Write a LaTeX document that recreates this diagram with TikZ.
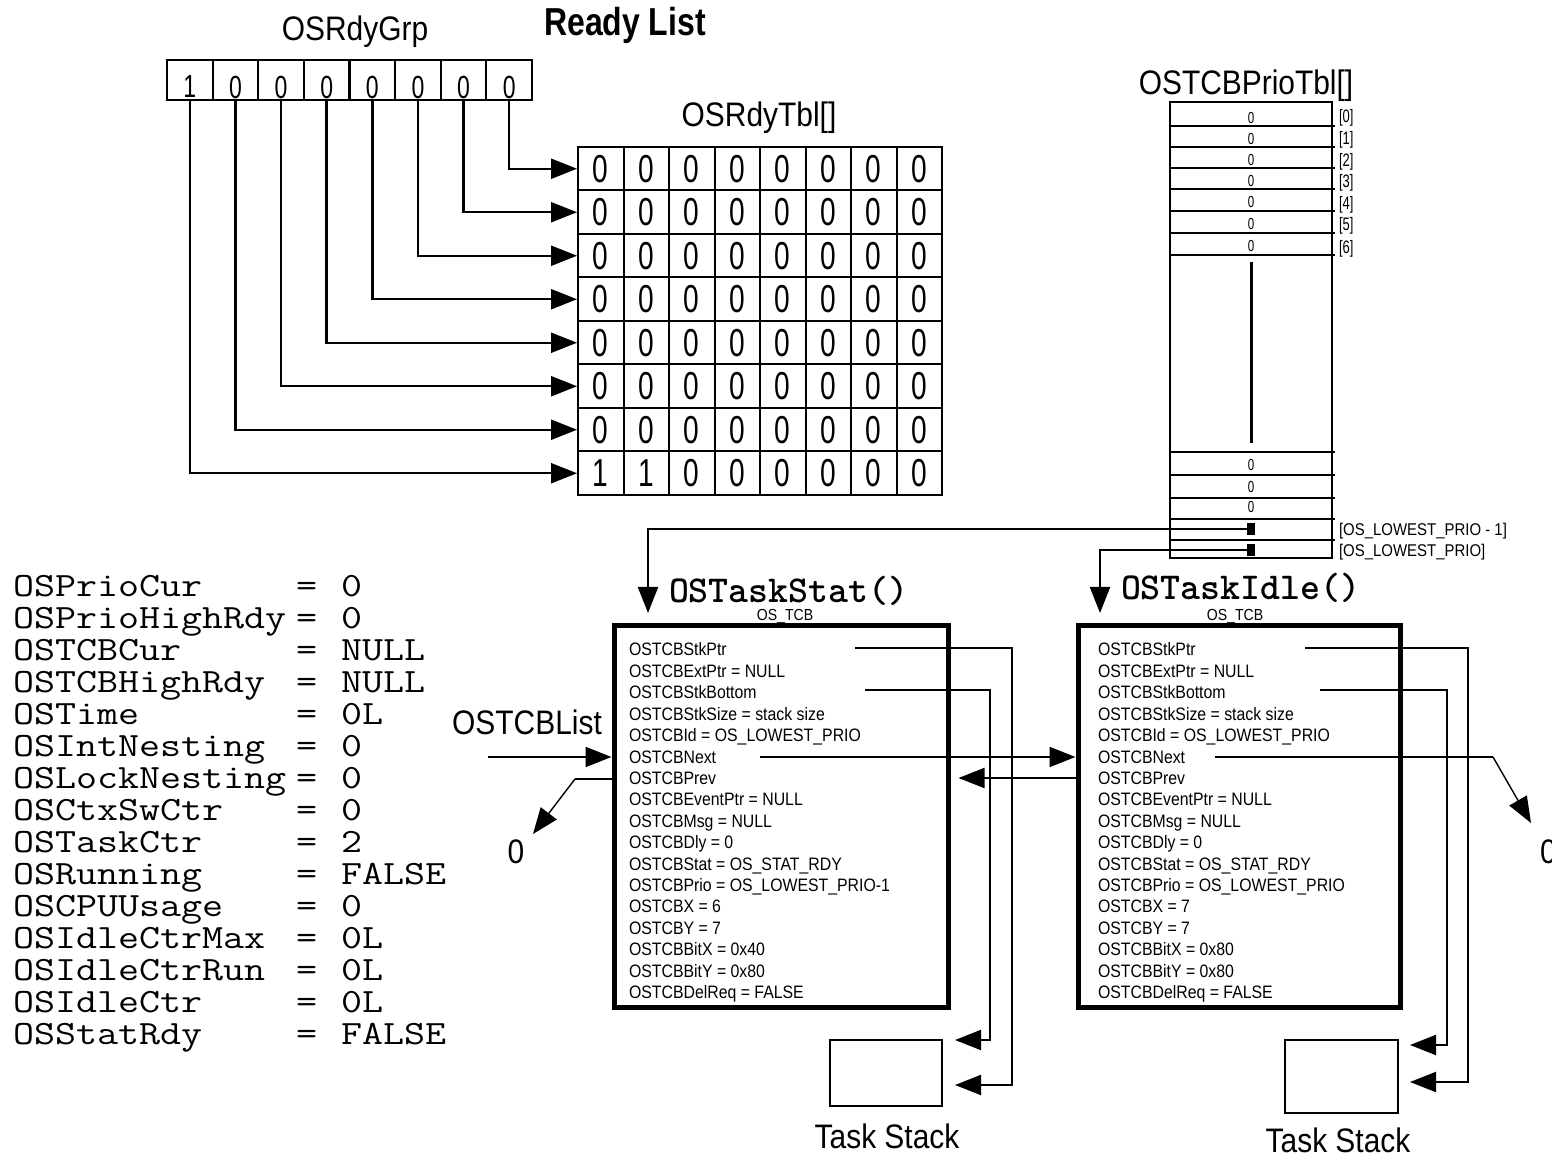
\documentclass[tikz,border=0pt]{standalone}
\usepackage{fontspec}
\setmainfont{Liberation Sans}
\newfontfamily\lblf[FakeStretch=0.88]{Liberation Sans}
\newfontfamily\narrowf[FakeStretch=0.72]{Liberation Sans}
\newfontfamily\rlf[FakeStretch=0.82]{Liberation Sans}
\newfontfamily\varf[FakeStretch=1.2]{Latin Modern Mono}
\usetikzlibrary{arrows.meta,calc}
\begin{document}
\begin{tikzpicture}[x=0.5pt,y=-0.5pt,line width=1pt,
  arr/.style={-{Triangle[length=13pt,width=10pt]}},
  lbl/.style={font=\lblf\fontsize{17}{19}\selectfont,inner sep=0},
  grpcell/.style={draw,minimum width=22.8pt,minimum height=20pt,inner sep=0},
  grpdig/.style={font=\narrowf\fontsize{16}{17}\selectfont,inner sep=0},
  tblcell/.style={draw,minimum width=22.75pt,minimum height=21.75pt,inner sep=0,
     font=\narrowf\fontsize{19.5}{20}\selectfont},
  pz/.style={font=\narrowf\fontsize{8}{9}\selectfont,inner sep=0},
  idx/.style={font=\narrowf\fontsize{9}{10}\selectfont,inner sep=0,anchor=west},
  plbl/.style={font=\lblf\fontsize{8.5}{9}\selectfont,inner sep=0,anchor=west},
  sq/.style={fill,minimum width=4pt,minimum height=6pt,inner sep=0},
  fld/.style={font=\lblf\fontsize{9}{10}\selectfont,inner sep=0,anchor=base west},
  tcbbox/.style={draw,line width=2.5pt,inner sep=0},
  ttl/.style={font=\ttfamily\bfseries\fontsize{19}{20}\selectfont,inner sep=0,anchor=base west},
  tcbl/.style={font=\lblf\fontsize{8}{9}\selectfont,inner sep=0},
  var/.style={font=\varf\fontsize{17}{18}\selectfont,inner sep=0,anchor=base west},
  stkbox/.style={draw,inner sep=0}
]
\useasboundingbox (0,0) rectangle (1552,1159);

% ---------- titles ----------
\node[lbl] (grpt) at (355,32) {OSRdyGrp};
\node[font=\rlf\bfseries\fontsize{19.5}{21}\selectfont,inner sep=0] (rl) at (625,25) {Ready List};
\node[lbl] (tblt) at (759,118) {OSRdyTbl[]};

% ---------- OSRdyGrp ----------
\foreach \i/\d in {0/1,1/0,2/0,3/0,4/0,5/0,6/0,7/0} {
  \pgfmathsetmacro\cx{167+45.625*(\i+0.5)}
  \node[grpcell] (r\i) at (\cx,80) {};
  \node[grpdig] (rd\i) at (\cx,87) {\d};
}

% ---------- OSRdyTbl ----------
\foreach \r in {0,...,7} {
  \foreach \c in {0,...,7} {
    \pgfmathsetmacro\cx{578+45.5*(\c+0.5)}
    \pgfmathsetmacro\cy{147+43.5*(\r+0.5)}
    \pgfmathtruncatemacro\v{and(\r==7,\c<2)}
    \node[tblcell] (t\r-\c) at (\cx,\cy) {\raisebox{-1pt}{\v}};
  }
}
\foreach \i in {0,...,7} {
  \pgfmathtruncatemacro\r{7-\i}
  \draw[arr,line width=1.2pt] (r\i.south) |- (t\r-0.west);
}

% ---------- OSTCBPrioTbl ----------
\node[lbl] (ptitle) at (1246,86) {OSTCBPrioTbl[]};
\node[draw,minimum width=81pt,minimum height=228pt,inner sep=0] (ptbl) at (1251,330) {};
\foreach \y in {126,147,168,189,211,233,255,452,475,498,519,540}
  \draw (1170,\y) -- (1335,\y);
\foreach \y [count=\k] in {118,139,160,181,202,224,246,465,487,507}
  \node[pz] (pz\k) at (1251,\y) {0};
\foreach \k/\y in {0/118,1/140,2/162,3/183,4/205,5/226,6/249}
  \node[idx] (ix\k) at (1338,\y) {[\k]};
\draw[line width=1.5pt] (1251,262) -- (1251,443);
\node[sq] (sqA) at (1251,529) {};
\node[sq] (sqB) at (1251,550) {};
\node[plbl] (lpA) at (1338,531) {[OS\_LOWEST\_PRIO - 1]};
\node[plbl] (lpB) at (1338,552) {[OS\_LOWEST\_PRIO]};

% ---------- TCB boxes ----------
\node[tcbbox,minimum width=167pt,minimum height=190.5pt] (tcbA) at (781,816.5) {};
\node[tcbbox,minimum width=161pt,minimum height=190.5pt] (tcbB) at (1239,816.5) {};
\node[ttl] (ttlA) at (668,603) {OSTaskStat()};
\node[ttl] (ttlB) at (1120,600) {OSTaskIdle()};
\node[tcbl] (osA) at (785,617) {OS\_TCB};
\node[tcbl] (osB) at (1235,617) {OS\_TCB};

\foreach \t [count=\k from 0] in {OSTCBStkPtr, OSTCBExtPtr = NULL, OSTCBStkBottom,
   OSTCBStkSize = stack size, OSTCBId = OS\_LOWEST\_PRIO, OSTCBNext, OSTCBPrev,
   OSTCBEventPtr = NULL, OSTCBMsg = NULL, OSTCBDly = 0, OSTCBStat = OS\_STAT\_RDY,
   OSTCBPrio = OS\_LOWEST\_PRIO-1, OSTCBX = 6, OSTCBY = 7, OSTCBBitX = 0x40,
   OSTCBBitY = 0x80, OSTCBDelReq = FALSE}
  \node[fld] (a\k) at (628,{656+21.4*\k}) {\t};

\foreach \t [count=\k from 0] in {OSTCBStkPtr, OSTCBExtPtr = NULL, OSTCBStkBottom,
   OSTCBStkSize = stack size, OSTCBId = OS\_LOWEST\_PRIO, OSTCBNext, OSTCBPrev,
   OSTCBEventPtr = NULL, OSTCBMsg = NULL, OSTCBDly = 0, OSTCBStat = OS\_STAT\_RDY,
   OSTCBPrio = OS\_LOWEST\_PRIO, OSTCBX = 7, OSTCBY = 7, OSTCBBitX = 0x80,
   OSTCBBitY = 0x80, OSTCBDelReq = FALSE}
  \node[fld] (b\k) at (1097,{656+21.4*\k}) {\t};

% priority table -> TCBs
\coordinate (tA) at (648,613);
\coordinate (tB) at (1100,613);
\draw[arr] (sqA.center) -| (tA);
\draw[arr] (sqB.center) -| (tB);

% ---------- task stacks ----------
\node[stkbox,minimum width=56pt,minimum height=33pt] (stkA) at (886,1073) {};
\node[stkbox,minimum width=56.5pt,minimum height=36.5pt] (stkB) at (1341.5,1076.5) {};
\node[lbl] (tsA) at (887,1136) {Task Stack};
\node[lbl] (tsB) at (1338,1140) {Task Stack};

\coordinate (aSP) at (855,648);
\coordinate (aSPe) at (955,1085);
\coordinate (aSB) at (865,690);
\coordinate (aSBe) at (955,1040);
\draw[arr] (aSP) -- (1012,648) -- (1012,1085) -- (aSPe);
\draw[arr] (aSB) -- (990,690) -- (990,1040) -- (aSBe);

\coordinate (bSP) at (1305,648);
\coordinate (bSPe) at (1410,1082);
\coordinate (bSB) at (1320,690);
\coordinate (bSBe) at (1410,1045);
\draw[arr] (bSP) -- (1468,648) -- (1468,1082) -- (bSPe);
\draw[arr] (bSB) -- (1447,690) -- (1447,1045) -- (bSBe);

% ---------- linked list ----------
\node[lbl] (lst) at (527,722) {OSTCBList};
\coordinate (lstS) at (488,757);
\draw[arr] (lstS) -- (lstS -| tcbA.west);

\coordinate (aNx) at (760,757);
\draw[arr] (aNx) -- (aNx -| tcbB.west);
\coordinate (bPv) at (1076,778);
\draw[arr,shorten >=4pt] (bPv) -- (bPv -| tcbA.east);

\node[lbl] (nullA) at (516,852) {0};
\coordinate (aPv) at (613,779);
\coordinate (aBd) at (575,779);
\coordinate (aTip) at (533,834);
\draw (aPv) -- (aBd);
\draw[arr,line width=0.7pt] (aBd) -- (aTip);

\node[lbl,anchor=west] (nullB) at (1539,852) {0};
\coordinate (bNx) at (1215,757);
\coordinate (bBd) at (1493,757);
\coordinate (bTip) at (1531,823);
\draw (bNx) -- (bBd);
\draw[arr,line width=0.7pt] (bBd) -- (bTip);

% ---------- global variables ----------
\foreach \n/\v [count=\k from 0] in {OSPrioCur/0, OSPrioHighRdy/0, OSTCBCur/NULL,
   OSTCBHighRdy/NULL, OSTime/0L, OSIntNesting/0, OSLockNesting/0, OSCtxSwCtr/0,
   OSTaskCtr/2, OSRunning/FALSE, OSCPUUsage/0, OSIdleCtrMax/0L, OSIdleCtrRun/0L,
   OSIdleCtr/0L, OSStatRdy/FALSE} {
  \pgfmathsetmacro\by{597+31.93*\k}
  \node[var] (v\k) at (12,\by) {\n};
  \node[var] (e\k) at (295,\by) {=};
  \node[var] (w\k) at (340,\by) {\v};
}
\end{tikzpicture}
\end{document}
